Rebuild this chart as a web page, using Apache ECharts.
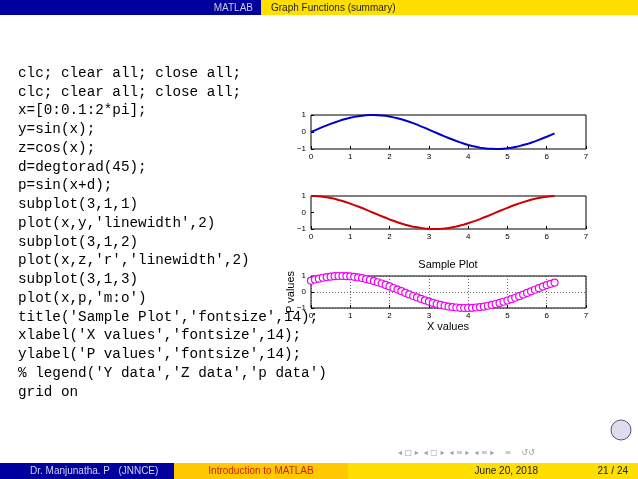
<!DOCTYPE html>
<html><head><meta charset="utf-8">
<script src="https://cdn.jsdelivr.net/npm/echarts@6/dist/echarts.min.js"></script>
<style>html,body{margin:0;padding:0;background:#fff}#c{width:638px;height:479px}</style>
</head><body><div id="c"></div>
<script>
const xs=[0,0.1,0.2,0.3,0.4,0.5,0.6,0.7,0.8,0.9,1.0,1.1,1.2,1.3,1.4,1.5,1.6,1.7,1.8,1.9,2.0,2.1,2.2,2.3,2.4,2.5,2.6,2.7,2.8,2.9,3.0,3.1,3.2,3.3,3.4,3.5,3.6,3.7,3.8,3.9,4.0,4.1,4.2,4.3,4.4,4.5,4.6,4.7,4.8,4.9,5.0,5.1,5.2,5.3,5.4,5.5,5.6,5.7,5.8,5.9,6.0,6.1,6.2];
const yVals=[0,0.10,0.20,0.30,0.39,0.48,0.56,0.64,0.72,0.78,0.84,0.89,0.93,0.96,0.99,1.00,1.00,0.99,0.97,0.95,0.91,0.86,0.81,0.75,0.68,0.60,0.52,0.43,0.33,0.24,0.14,0.04,-0.06,-0.16,-0.26,-0.35,-0.44,-0.53,-0.61,-0.69,-0.76,-0.82,-0.87,-0.92,-0.95,-0.98,-0.99,-1.00,-1.00,-0.98,-0.96,-0.93,-0.88,-0.83,-0.77,-0.71,-0.63,-0.55,-0.46,-0.37,-0.28,-0.18,-0.08];
const zVals=[1.00,1.00,0.98,0.96,0.92,0.88,0.83,0.76,0.70,0.62,0.54,0.45,0.36,0.27,0.17,0.07,-0.03,-0.13,-0.23,-0.32,-0.42,-0.50,-0.59,-0.67,-0.74,-0.80,-0.86,-0.90,-0.94,-0.97,-0.99,-1.00,-1.00,-0.99,-0.97,-0.94,-0.90,-0.85,-0.79,-0.73,-0.65,-0.57,-0.49,-0.40,-0.30,-0.21,-0.11,-0.01,0.09,0.19,0.28,0.38,0.47,0.55,0.63,0.70,0.77,0.83,0.88,0.92,0.96,0.98,1.00];
const pVals=[0.71,0.78,0.83,0.89,0.93,0.96,0.99,1.00,1.00,0.99,0.98,0.95,0.91,0.87,0.81,0.75,0.68,0.61,0.53,0.44,0.35,0.25,0.15,0.05,-0.05,-0.15,-0.25,-0.34,-0.43,-0.52,-0.60,-0.68,-0.75,-0.81,-0.86,-0.91,-0.94,-0.97,-0.99,-1.00,-1.00,-0.99,-0.97,-0.94,-0.91,-0.86,-0.81,-0.75,-0.68,-0.61,-0.53,-0.45,-0.36,-0.26,-0.16,-0.06,0.04,0.14,0.24,0.34,0.43,0.51,0.59];
const xTicks=['0','1','2','3','4','5','6','7'];
const yTicks=['\u22121','0','1'];
const codeLines=["clc; clear all; close all;","clc; clear all; close all;","x=[0:0.1:2*pi];","y=sin(x);","z=cos(x);","d=degtorad(45);","p=sin(x+d);","subplot(3,1,1)","plot(x,y,'linewidth',2)","subplot(3,1,2)","plot(x,z,'r','linewidth',2)","subplot(3,1,3)","plot(x,p,'m:o')","title('Sample Plot','fontsize',14);","xlabel('X values','fontsize',14);","ylabel('P values','fontsize',14);","% legend('Y data','Z data','p data')","grid on"];

const tops=[115,196,276], h=[34,33,32];
const grids=tops.map((t,i)=>({left:311,width:275,top:t,height:h[i],show:true,borderColor:'#000',borderWidth:1,backgroundColor:'#fff'}));
const font='Liberation Sans, Arial, sans-serif';
function xa(i){return {type:'value',gridIndex:i,min:0,max:7,interval:1,position:'bottom',axisLine:{show:false,onZero:false},axisTick:{inside:true,length:3,lineStyle:{color:'#000'}},
 axisLabel:{fontSize:8,color:'#000',fontFamily:font,margin:4,formatter:v=>xTicks[Math.round(v)]},
 splitLine:{show:i===2,lineStyle:{color:'#444',type:[1,2],width:0.8}}};}
function ya(i){return {type:'value',gridIndex:i,min:-1,max:1,interval:1,axisLine:{show:false,onZero:false},axisTick:{inside:true,length:3,lineStyle:{color:'#000'}},
 axisLabel:{fontSize:8,color:'#000',fontFamily:font,margin:5,formatter:v=>yTicks[Math.round(v)+1]},
 splitLine:{show:i===2,lineStyle:{color:'#444',type:[1,2],width:0.8}}};}
const pair=a=>xs.map((x,i)=>[x,a[i]]);
const g=[];
g.push({type:'rect',shape:{x:0,y:0,width:261,height:15},style:{fill:'#00009e'}});
g.push({type:'rect',shape:{x:261,y:0,width:377,height:15},style:{fill:'#ffdf00'}});
g.push({type:'text',x:253,y:8,style:{text:'MATLAB',fill:'#c8c8e8',fontSize:10,fontFamily:font,align:'right',verticalAlign:'middle'}});
g.push({type:'text',x:271,y:8,style:{text:'Graph Functions (summary)',fill:'#222',fontSize:10,fontFamily:font,align:'left',verticalAlign:'middle'}});
g.push({type:'rect',shape:{x:0,y:463,width:174,height:16},style:{fill:'#00009e'}});
g.push({type:'rect',shape:{x:174,y:463,width:174,height:16},style:{fill:'#ffc800'}});
g.push({type:'rect',shape:{x:348,y:463,width:290,height:16},style:{fill:'#ffdf00'}});
g.push({type:'text',x:30,y:471,style:{text:'Dr. Manjunatha. P   (JNNCE)',fill:'#d0d0f0',fontSize:10,fontFamily:font,verticalAlign:'middle'}});
g.push({type:'text',x:261,y:471,style:{text:'Introduction to MATLAB',fill:'#d02000',fontSize:10,fontFamily:font,align:'center',verticalAlign:'middle'}});
g.push({type:'text',x:538,y:471,style:{text:'June 20, 2018',fill:'#222',fontSize:10,fontFamily:font,align:'right',verticalAlign:'middle'}});
g.push({type:'text',x:628,y:471,style:{text:'21 / 24',fill:'#222',fontSize:10,fontFamily:font,align:'right',verticalAlign:'middle'}});
g.push({type:'text',x:398,y:453,style:{text:'\u25C2 \u25A1 \u25B8  \u25C2 \u25A2 \u25B8  \u25C2 \u2261 \u25B8  \u25C2 \u2261 \u25B8    \u2261    \u21BA\u21BA',fill:'#9a9aba',fontSize:8,fontFamily:'DejaVu Sans',verticalAlign:'middle'}});
g.push({type:'circle',shape:{cx:621,cy:430,r:10},style:{fill:'#dde',stroke:'#557',lineWidth:1}});
codeLines.forEach((l,i)=>g.push({type:'text',x:18,y:73+i*18.75,style:{text:l,fill:'#000',fontSize:14.3,fontFamily:'Liberation Mono, DejaVu Sans Mono, monospace',verticalAlign:'middle'}}));
g.push({type:'text',x:448,y:265,style:{text:'Sample Plot',fill:'#000',fontSize:11,fontFamily:font,align:'center',verticalAlign:'middle'}});
g.push({type:'text',x:448,y:327,style:{text:'X values',fill:'#000',fontSize:11,fontFamily:font,align:'center',verticalAlign:'middle'}});
g.push({type:'text',x:291,y:292,rotation:Math.PI/2,style:{text:'P values',fill:'#000',fontSize:11,fontFamily:font,align:'center',verticalAlign:'middle'}});
const chart=echarts.init(document.getElementById('c'));
chart.setOption({animation:false,grid:grids,xAxis:[0,1,2].map(xa),yAxis:[0,1,2].map(ya),graphic:g,
series:[
 {type:'line',xAxisIndex:0,yAxisIndex:0,data:pair(yVals),showSymbol:false,lineStyle:{color:'#0000cc',width:2}},
 {type:'line',xAxisIndex:1,yAxisIndex:1,data:pair(zVals),showSymbol:false,lineStyle:{color:'#cc0000',width:2}},
 {type:'line',xAxisIndex:2,yAxisIndex:2,data:pair(pVals),symbol:'circle',symbolSize:7,showAllSymbol:true,itemStyle:{color:'#fff',borderColor:'#ee00ee',borderWidth:1.2},lineStyle:{color:'#ee00ee',width:1,type:'dotted'}}
]});
</script></body></html>
